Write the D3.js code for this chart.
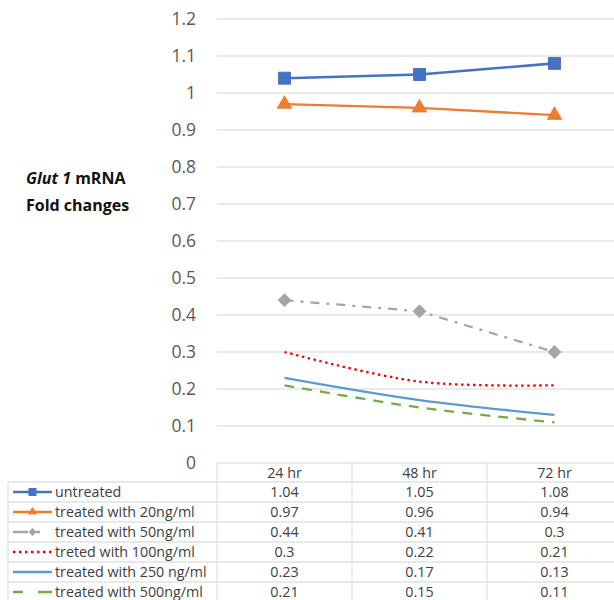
<!DOCTYPE html>
<html>
<head>
<meta charset="utf-8">
<script src="https://cdn.jsdelivr.net/npm/d3@7"></script>
<style>
  html, body { margin: 0; padding: 0; background: #fff; }
  svg { display: block; }
</style>
</head>
<body>
<svg id="chart" width="614" height="600"></svg>
<script>
// Time points (columns of the data table)
const categories = ["24 hr", "48 hr", "72 hr"];

// Series names as shown in the data table
const seriesNames = [
  "untreated",
  "treated with 20ng/ml",
  "treated with 50ng/ml",
  "treted with 100ng/ml",
  "treated with 250 ng/ml",
  "treated with 500ng/ml"
];

// Glut 1 mRNA fold change for each series
const untreated = [1.04, 1.05, 1.08];
const treated20 = [0.97, 0.96, 0.94];
const treated50 = [0.44, 0.41, 0.3];
const treated100 = [0.3, 0.22, 0.21];
const treated250 = [0.23, 0.17, 0.13];
const treated500 = [0.21, 0.15, 0.11];

const yTicks = [0, 0.1, 0.2, 0.3, 0.4, 0.5, 0.6, 0.7, 0.8, 0.9, 1, 1.1, 1.2];

const seriesValues = [untreated, treated20, treated50, treated100, treated250, treated500];

// Visual style per series
const styles = [
  { color: "#4472C4", dash: null, marker: "square", smooth: false },
  { color: "#ED7D31", dash: null, marker: "triangle", smooth: false },
  { color: "#A5A5A5", dash: "9,7,3,7", marker: "diamond", smooth: false },
  { color: "#FF0000", dash: "2.5,3.5", marker: null, smooth: true },
  { color: "#5B9BD5", dash: null, marker: null, smooth: true },
  { color: "#70AD47", dash: "10,8", marker: null, smooth: true }
];

const series = seriesNames.map((name, i) => ({ name, values: seriesValues[i], style: styles[i] }));

const svg = d3.select("#chart");
const font = "'Open Sans', 'DejaVu Sans', sans-serif";

// Plot geometry
const plotLeft = 217, plotRight = 622;
const y = d3.scaleLinear().domain([0, 1.2]).range([463, 19]);
const x = d3.scaleBand().domain(categories).range([plotLeft, plotRight]);
const xc = d => x(d) + x.bandwidth() / 2;

// Horizontal gridlines
svg.append("g")
  .selectAll("line")
  .data(yTicks.filter(t => t > 0))
  .join("line")
  .attr("x1", plotLeft).attr("x2", 614)
  .attr("y1", d => y(d)).attr("y2", d => y(d))
  .attr("stroke", "#e3e3e3").attr("stroke-width", 1.3);

// Y axis tick labels
const yAxis = d3.axisLeft(y).tickValues(yTicks).tickSize(0).tickPadding(0)
  .tickFormat(d => d3.format("~g")(d));
const yg = svg.append("g").attr("transform", "translate(196,0)").call(yAxis);
yg.select(".domain").remove();
yg.selectAll("text")
  .attr("font-family", font).attr("font-size", 17.5)
  .attr("fill", "#595959");

// Axis title
const title = svg.append("text")
  .attr("font-family", font).attr("font-weight", "bold")
  .attr("font-size", 16).attr("fill", "#111");
title.append("tspan").attr("x", 26).attr("y", 184).attr("font-style", "italic").text("Glut 1");
title.append("tspan").text(" mRNA");
svg.append("text")
  .attr("font-family", font).attr("font-weight", "bold")
  .attr("font-size", 16).attr("fill", "#111")
  .attr("x", 26).attr("y", 211).text("Fold changes");

// Marker symbols
function markerPath(type, size) {
  if (type === "square") return d3.symbol(d3.symbolSquare, size * size)();
  if (type === "triangle") return d3.symbol(d3.symbolTriangle, size * size * 0.55)();
  if (type === "diamond") return d3.symbol(d3.symbolSquare, size * size * 0.5)();
  return null;
}
const markerRotate = type => (type === "diamond" ? " rotate(45)" : "");

// Lines
const lineGen = smooth => d3.line()
  .x((d, i) => xc(categories[i]))
  .y(d => y(d))
  .curve(smooth ? d3.curveCatmullRom.alpha(0.5) : d3.curveLinear);

const lines = svg.append("g");
series.forEach(s => {
  lines.append("path")
    .attr("d", lineGen(s.style.smooth)(s.values))
    .attr("fill", "none")
    .attr("stroke", s.style.color)
    .attr("stroke-width", s.style.color === "#4472C4" ? 2.6 : 2.3)
    .attr("stroke-dasharray", s.style.dash);
  if (s.style.marker) {
    lines.append("g").selectAll("path")
      .data(s.values)
      .join("path")
      .attr("transform", (d, i) => `translate(${xc(categories[i])},${y(d)})${markerRotate(s.style.marker)}`)
      .attr("d", markerPath(s.style.marker, s.style.marker === "square" ? 12 : 13))
      .attr("fill", s.style.color)
      .attr("stroke", s.style.marker === "square" ? "#3b64b0" : s.style.color)
      .attr("stroke-width", 0.8);
  }
});

// Data table
const tableLeft = 8, headerTop = 463, rowTop = 482, rowH = 20;
const border = "#dfe2e7";
const table = svg.append("g");
const cellFont = 14.3;

// header row
table.append("line").attr("x1", plotLeft).attr("x2", 614).attr("y1", headerTop).attr("y2", headerTop)
  .attr("stroke", border).attr("stroke-width", 1.3);
// row separators
d3.range(seriesNames.length + 1).forEach(i => {
  table.append("line")
    .attr("x1", tableLeft).attr("x2", 614)
    .attr("y1", rowTop + i * rowH).attr("y2", rowTop + i * rowH)
    .attr("stroke", border).attr("stroke-width", 1.3);
});
// vertical separators
table.append("line").attr("x1", tableLeft).attr("x2", tableLeft)
  .attr("y1", rowTop).attr("y2", 600).attr("stroke", border).attr("stroke-width", 1.3);
categories.forEach(c => {
  table.append("line").attr("x1", x(c)).attr("x2", x(c))
    .attr("y1", headerTop).attr("y2", 600).attr("stroke", border).attr("stroke-width", 1.3);
});

// header labels
table.selectAll("text.hdr")
  .data(categories)
  .join("text")
  .attr("class", "hdr")
  .attr("x", d => xc(d)).attr("y", headerTop + 15)
  .attr("text-anchor", "middle")
  .attr("font-family", font).attr("font-size", cellFont).attr("fill", "#404040")
  .text(d => d);

// rows
series.forEach((s, r) => {
  const cy = rowTop + r * rowH + rowH / 2;
  // legend key
  const k = table.append("g");
  let keyDash = s.style.dash;
  if (s.style.marker === "diamond") keyDash = "15,8,4,100";
  if (s.style.dash === "10,8") keyDash = "10,15,14";
  k.append("line").attr("x1", 13).attr("x2", 52).attr("y1", cy).attr("y2", cy)
    .attr("stroke", s.style.color).attr("stroke-width", 2.3)
    .attr("stroke-dasharray", keyDash);
  if (s.style.marker) {
    k.append("path")
      .attr("transform", `translate(32.5,${cy})${markerRotate(s.style.marker)}`)
      .attr("d", markerPath(s.style.marker, 8))
      .attr("fill", s.style.color);
  }
  table.append("text")
    .attr("x", 55).attr("y", cy + 5)
    .attr("font-family", font).attr("font-size", cellFont).attr("fill", "#404040")
    .text(s.name);
  s.values.forEach((v, i) => {
    table.append("text")
      .attr("x", xc(categories[i])).attr("y", cy + 5)
      .attr("text-anchor", "middle")
      .attr("font-family", font).attr("font-size", cellFont).attr("fill", "#404040")
      .text(v);
  });
});
</script>
</body>
</html>
